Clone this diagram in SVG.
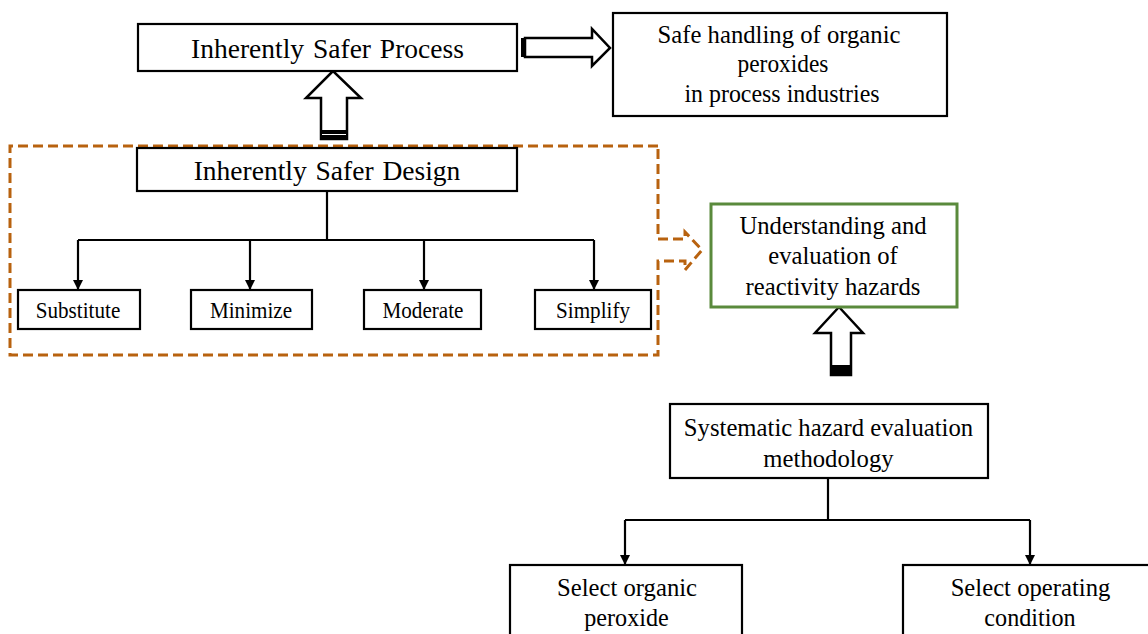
<svg xmlns="http://www.w3.org/2000/svg" width="1148" height="634" viewBox="0 0 1148 634">
<defs>
<style>
.box{fill:#fff;stroke:#000;stroke-width:2.2}
.gbox{fill:#fff;stroke:#5a8a3c;stroke-width:3}
.t{font-family:"Liberation Serif","Times New Roman",serif;fill:#000;text-anchor:middle;font-size:26px}
.h{font-size:27.5px;word-spacing:2px}
.s{font-size:23px}
.ln{fill:none;stroke:#000;stroke-width:2.2}
.big{fill:#fff;stroke:#000;stroke-width:2.5;stroke-linejoin:miter}
.dash{fill:none;stroke:#b8620f;stroke-width:3;stroke-dasharray:10 5}
</style>
<marker id="ah" viewBox="0 0 10 10" refX="10" refY="5" markerWidth="10" markerHeight="10" markerUnits="userSpaceOnUse" orient="auto">
<path d="M0,0 L10,5 L0,10 Z" fill="#000"/>
</marker>
</defs>
<rect width="1148" height="634" fill="#fff"/>

<g id="connectors">
<path class="ln" d="M327,191 V240 M78,240 H594" />
<path class="ln" d="M78,240 V290" marker-end="url(#ah)"/>
<path class="ln" d="M250,240 V290" marker-end="url(#ah)"/>
<path class="ln" d="M424,240 V290" marker-end="url(#ah)"/>
<path class="ln" d="M594,240 V290" marker-end="url(#ah)"/>
<path class="ln" d="M828,478 V520 M625,520 H1030" />
<path class="ln" d="M625,520 V565" marker-end="url(#ah)"/>
<path class="ln" d="M1030,520 V565" marker-end="url(#ah)"/>
<path class="big" d="M525,38 H592 V29 L610,48 L592,66 V57 H525 Z"/>
<rect x="521" y="38" width="5" height="19" fill="#000"/>
<path class="big" d="M321,139 V98 H306 L333,71 L361,98 H347 V139 Z"/>
<rect x="321" y="130" width="26" height="10" fill="#000"/>
<line x1="322" y1="134.5" x2="346" y2="134.5" stroke="#fff" stroke-width="1"/>
<path class="big" d="M831,375 V333 H815 L839,307 L863,333 H851 V375 Z"/>
<rect x="831" y="365" width="20" height="10" fill="#000"/>
<path class="dash" d="M658,146 H10 V355 H658 V261 H685 V270 L702,250 L685,232 V239 H658 Z"/>
</g>

<g id="node-isp">
<rect class="box" x="138" y="24" width="379" height="47"/>
<text class="t h" x="327.5" y="58">Inherently Safer Process</text>
</g>

<g id="node-safe-handling">
<rect class="box" x="613" y="13" width="334" height="103"/>
<text class="t" transform="translate(779,43) scale(0.95,1)">Safe handling of organic</text>
<text class="t" transform="translate(783,72) scale(0.9,1)">peroxides</text>
<text class="t" transform="translate(782,102) scale(0.92,1)">in process industries</text>
</g>

<g id="node-isd">
<rect class="box" x="137" y="148" width="380" height="43"/>
<text class="t h" x="327" y="180">Inherently Safer Design</text>
</g>

<g id="node-substitute">
<rect class="box" x="18" y="290" width="122" height="39"/>
<text class="t s" transform="translate(78,318) scale(0.92,1)">Substitute</text>
</g>
<g id="node-minimize">
<rect class="box" x="191" y="290" width="121" height="39"/>
<text class="t s" transform="translate(251,318) scale(0.92,1)">Minimize</text>
</g>
<g id="node-moderate">
<rect class="box" x="364" y="290" width="117" height="39"/>
<text class="t s" transform="translate(423,318) scale(0.92,1)">Moderate</text>
</g>
<g id="node-simplify">
<rect class="box" x="535" y="290" width="116" height="39"/>
<text class="t s" transform="translate(593,318) scale(0.92,1)">Simplify</text>
</g>

<g id="node-understanding">
<rect class="gbox" x="711" y="204" width="246" height="103"/>
<text class="t" transform="translate(833,234) scale(0.95,1)">Understanding and</text>
<text class="t" transform="translate(833,264) scale(0.95,1)">evaluation of</text>
<text class="t" transform="translate(833,295) scale(0.95,1)">reactivity hazards</text>
</g>

<g id="node-systematic">
<rect class="box" x="670" y="404" width="318" height="74"/>
<text class="t" transform="translate(828.5,436) scale(0.95,1)">Systematic hazard evaluation</text>
<text class="t" transform="translate(828.5,467) scale(0.95,1)">methodology</text>
</g>

<g id="node-select-peroxide">
<rect class="box" x="510" y="565" width="232" height="80"/>
<text class="t" transform="translate(627,596) scale(0.95,1)">Select organic</text>
<text class="t" transform="translate(626.5,626) scale(0.93,1)">peroxide</text>
</g>

<g id="node-select-condition">
<rect class="box" x="903" y="565" width="260" height="80"/>
<text class="t" transform="translate(1030.5,596) scale(0.95,1)">Select operating</text>
<text class="t" transform="translate(1030,626) scale(0.93,1)">condition</text>
</g>
</svg>
